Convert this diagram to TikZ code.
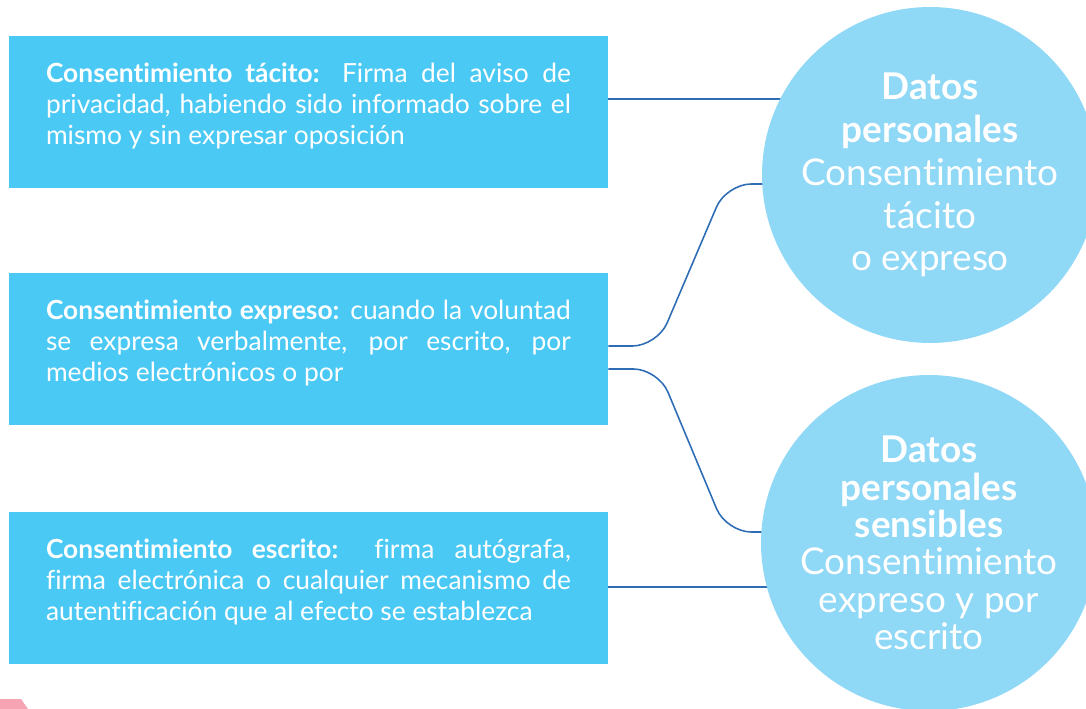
\documentclass[tikz,border=0pt]{standalone}
\usepackage{fontspec}
\setmainfont[Ligatures=NoCommon]{Lato}
\usepackage{tikz}
\usetikzlibrary{calc}
\usetikzlibrary{backgrounds}
\definecolor{boxblue}{HTML}{4BC9F5}
\definecolor{circblue}{HTML}{8FD8F6}
\definecolor{linkblue}{HTML}{2E6DB4}
\definecolor{cornerpink}{HTML}{F6A3B4}
\newcommand{\boxgap}{\par\vspace*{0.24cm}}
\begin{document}
\begin{tikzpicture}[x=0.02cm, y=-0.02cm,
			infobox/.style={rectangle, fill=boxblue, text=white, inner sep=0pt,
				minimum width=11.98cm, minimum height=3.04cm, text width=10.5cm,
				align=justify, font=\fontsize{15}{17.6}\selectfont,
				execute at end node=\boxgap},
			datacircle/.style={circle, fill=circblue, text=white, inner sep=0pt,
				minimum size=6.72cm, align=center},
			link/.style={draw=linkblue, line width=0.9pt, rounded corners=0.5cm}
			]
			\useasboundingbox (0,0) rectangle (1086,709);
			\clip (0,0) rectangle (1086,709);
			
			%% Boxes
			\node[infobox] (tacito) at (308.5,112) {\textbf{Consentimiento tácito:} Firma del aviso de\linebreak privacidad, habiendo sido informado sobre el\linebreak mismo y sin expresar oposición};
			\node[infobox] (expreso) at (308.5,349) {\textbf{Consentimiento expreso:} cuando la voluntad\linebreak se expresa verbalmente, por escrito, por\linebreak medios electrónicos o por};
			\node[infobox] (escrito) at (308.5,588) {\textbf{Consentimiento escrito:} firma autógrafa,\linebreak firma electrónica o cualquier mecanismo de\linebreak autentificación que al efecto se establezca};
			
			%% Circles
			\node[datacircle, font=\fontsize{21}{24.4}\selectfont] (personales) at (930,175) {\textbf{Datos}\\\textbf{personales}\\Consentimiento\\tácito\\o expreso};
			\node[datacircle, font=\fontsize{21}{21.3}\selectfont] (sensibles) at (929,543) {\textbf{Datos}\\\textbf{personales}\\\textbf{sensibles}\\Consentimiento\\expreso y por\\escrito};
			
			%% Connectors
			\begin{pgfonlayer}{background}
			\draw[link] ($(tacito.east)+(0,-13)$) -- ($(personales.center)+(0,-76)$);
			\draw[link] ($(expreso.east)+(0,-3)$) -- ++(49,0) -- ++(69,-162) -- ($(personales.center)+(0,9)$);
			\draw[link] ($(expreso.east)+(0,20)$) -- ++(50,0) -- ++(68,163) -- ($(sensibles.center)+(0,-11)$);
			\draw[link] ($(escrito.east)+(0,-1)$) -- ($(sensibles.center)+(0,44)$);
			\end{pgfonlayer}
			
			%\draw[gray] (0,0) grid (1086,709);
			\fill[cornerpink] (0,699) -- (21,699) -- (28,709) -- (0,709) -- cycle;
			
			\end{tikzpicture}
\end{document}
